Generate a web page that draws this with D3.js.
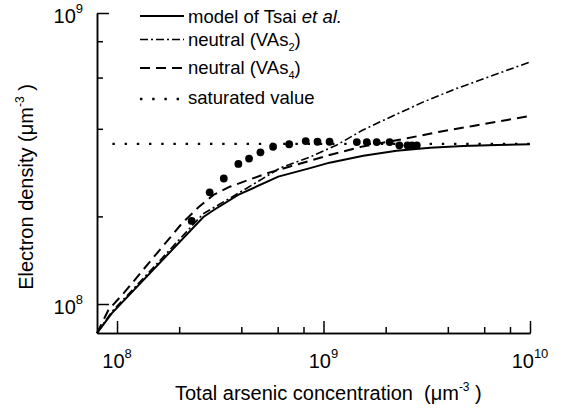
<!DOCTYPE html>
<html><head><meta charset="utf-8">
<script src="https://cdn.jsdelivr.net/npm/d3@7"></script>
<style>
body{margin:0;background:#fff}
svg{display:block}
text{font-family:"Liberation Sans",Arial,Helvetica,sans-serif;fill:#000}
</style>
</head><body>
<svg id="chart" width="567" height="410"></svg>
<script>
// ---- data (units: um^-3) ----
const tsaiX = [0.80e8, 0.943e8, 2.62e8, 2.93e8, 3.86e8, 6.04e8, 8.61e8, 1.07e9, 1.56e9, 2.26e9, 3.28e9, 4.75e9, 6.90e9, 1.0e10];
const tsaiY = [0.794e8, 0.929e8, 1.99e8, 2.10e8, 2.37e8, 2.74e8, 2.93e8, 3.06e8, 3.23e8, 3.36e8, 3.44e8, 3.49e8, 3.52e8, 3.54e8];

const vas2X = [0.80e8, 0.943e8, 1.445e8, 2.61e8, 4.25e8, 6.15e8, 8.61e8, 1.16e9, 1.55e9, 1.94e9, 3.03e9, 4.43e9, 6.40e9, 1.0e10];
const vas2Y = [0.794e8, 0.940e8, 1.297e8, 2.04e8, 2.50e8, 2.93e8, 3.20e8, 3.52e8, 3.96e8, 4.27e8, 4.94e8, 5.51e8, 6.05e8, 6.79e8];

const vas4X = [0.80e8, 0.908e8, 1.09e8, 1.47e8, 2.06e8, 2.48e8, 2.93e8, 3.52e8, 4.40e8, 5.31e8, 6.88e8, 8.93e8, 1.07e9, 1.55e9, 2.54e9, 3.66e9, 5.30e9, 7.74e9, 1.0e10];
const vas4Y = [0.794e8, 0.953e8, 1.10e8, 1.42e8, 1.89e8, 2.15e8, 2.37e8, 2.53e8, 2.68e8, 2.81e8, 2.97e8, 3.13e8, 3.25e8, 3.48e8, 3.71e8, 3.91e8, 4.09e8, 4.29e8, 4.43e8];

const satX = [0.95e8, 1.0e10];
const satValue = 3.55e8;

const measX = [2.30e8, 2.81e8, 3.29e8, 3.87e8, 4.36e8, 4.95e8, 5.70e8, 6.82e8, 8.20e8, 9.35e8, 1.07e9, 1.45e9, 1.62e9, 1.81e9, 2.09e9, 2.33e9, 2.55e9, 2.68e9, 2.83e9];
const measY = [1.93e8, 2.42e8, 2.70e8, 3.03e8, 3.16e8, 3.32e8, 3.47e8, 3.54e8, 3.63e8, 3.61e8, 3.61e8, 3.60e8, 3.60e8, 3.60e8, 3.60e8, 3.51e8, 3.51e8, 3.51e8, 3.51e8];

const xMajorTicks = [1e8, 1e9, 1e10];
const xMajorExp = ["8", "9", "10"];
const xMinorTicks = [2e8, 4e8, 6e8, 8e8, 2e9, 4e9, 6e9, 8e9];
const yMajorTicks = [1e8, 1e9];
const yMajorExp = ["8", "9"];
const yMinorTicks = [2e8, 4e8, 6e8, 8e8];

const legendLabels = [
  {main: "model of Tsai ", ital: "et al.", sub: null, tail: ""},
  {main: "neutral (VAs", ital: "", sub: "2", tail: ")"},
  {main: "neutral (VAs", ital: "", sub: "4", tail: ")"},
  {main: "saturated value", ital: "", sub: null, tail: ""}
];

// ---- drawing ----
const svg = d3.select("#chart");
const x = d3.scaleLog().domain([8e7, 1e10]).range([97, 530]);
const y = d3.scaleLog().domain([7.95e7, 1e9]).range([333, 13]);

const styles = [
  {w: 2, dash: null},
  {w: 1.6, dash: "8,3,2,3"},
  {w: 2, dash: "10,6"},
  {w: 2.4, dash: "2.4,9.8"}
];

// axes
function styleAxis(g){
  g.selectAll("path,line").attr("stroke", "#000").attr("stroke-width", 1.5);
  g.selectAll("text").remove();
}
svg.append("g").attr("transform", "translate(0,333)")
  .call(d3.axisBottom(x).tickValues(xMinorTicks).tickSize(-6).tickSizeOuter(0).tickFormat(""))
  .call(styleAxis);
svg.append("g").attr("transform", "translate(0,333)")
  .call(d3.axisBottom(x).tickValues(xMajorTicks).tickSize(-12).tickSizeOuter(0).tickFormat(""))
  .call(styleAxis);
svg.append("g").attr("transform", "translate(97,0)")
  .call(d3.axisLeft(y).tickValues(yMinorTicks).tickSize(-6).tickSizeOuter(0).tickFormat(""))
  .call(styleAxis);
svg.append("g").attr("transform", "translate(97,0)")
  .call(d3.axisLeft(y).tickValues(yMajorTicks).tickSize(-12).tickSizeOuter(0).tickFormat(""))
  .call(styleAxis);

// tick labels
xMajorTicks.forEach((v, i) => {
  const t = svg.append("text").attr("x", x(v)).attr("y", 368).attr("text-anchor", "middle").style("font-size", "20px");
  t.append("tspan").text("10");
  t.append("tspan").attr("dy", -10).style("font-size", "13px").text(xMajorExp[i]);
});
yMajorTicks.forEach((v, i) => {
  const t = svg.append("text").attr("x", 83).attr("y", y(v) + 9.5).attr("text-anchor", "end").style("font-size", "20px");
  t.append("tspan").text("10");
  t.append("tspan").attr("dy", -10).style("font-size", "13px").text(yMajorExp[i]);
});

// axis titles
const xt = svg.append("text").attr("x", 175).attr("y", 400).style("font-size", "20px");
xt.append("tspan").text("Total arsenic concentration\u00a0\u00a0(\u03bcm");
xt.append("tspan").attr("dy", -9).style("font-size", "12px").text("-3");
xt.append("tspan").attr("dy", 9).text("\u00a0)");

const yt = svg.append("text").attr("transform", "translate(33,187) rotate(-90)").attr("text-anchor", "middle").style("font-size", "20px");
yt.append("tspan").text("Electron density (\u03bcm");
yt.append("tspan").attr("dy", -9).style("font-size", "12px").text("-3");
yt.append("tspan").attr("dy", 9).text("\u00a0)");

// lines
const line = d3.line().x(d => x(d[0])).y(d => y(d[1]));
const series = [d3.zip(tsaiX, tsaiY), d3.zip(vas2X, vas2Y), d3.zip(vas4X, vas4Y)];
series.forEach((s, i) => {
  svg.append("path").datum(s).attr("d", line).attr("fill", "none").attr("stroke", "#000")
    .attr("stroke-width", styles[i].w).attr("stroke-dasharray", styles[i].dash);
});
svg.append("path").datum(satX.map(v => [v, satValue])).attr("d", line).attr("fill", "none")
  .attr("stroke", "#000").attr("stroke-width", styles[3].w).attr("stroke-dasharray", styles[3].dash);

// measured points
svg.append("g").selectAll("circle").data(d3.zip(measX, measY)).join("circle")
  .attr("cx", d => x(d[0])).attr("cy", d => y(d[1])).attr("r", 3.9).attr("fill", "#000");

// legend
const legSampleY = [16, 39.5, 68, 99];
const legTextY = [22.5, 46, 74, 104];
legendLabels.forEach((L, i) => {
  svg.append("line").attr("x1", 140).attr("x2", 184).attr("y1", legSampleY[i]).attr("y2", legSampleY[i])
    .attr("stroke", "#000").attr("stroke-width", styles[i].w).attr("stroke-dasharray", styles[i].dash);
  const t = svg.append("text").attr("x", 188).attr("y", legTextY[i]).style("font-size", "18.5px");
  t.append("tspan").text(L.main);
  if (L.ital) t.append("tspan").style("font-style", "italic").text(L.ital);
  if (L.sub) {
    t.append("tspan").attr("dy", 4.5).style("font-size", "11px").text(L.sub);
    t.append("tspan").attr("dy", -4.5).text(L.tail);
  }
});
</script>
</body></html>
